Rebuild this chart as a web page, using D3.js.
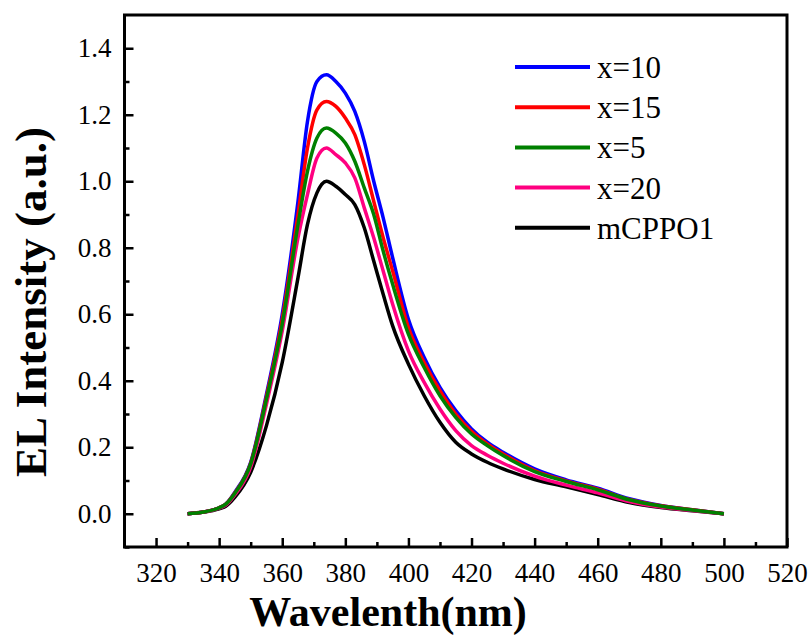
<!DOCTYPE html>
<html>
<head>
<meta charset="utf-8">
<script src="https://cdn.jsdelivr.net/npm/d3@7/dist/d3.min.js"></script>
<style>
  html, body { margin: 0; padding: 0; background: #fff; }
  svg { display: block; }
</style>
</head>
<body>
<svg id="chart" width="812" height="635"></svg>
<script>
// ---- Data ----
const wavelengths = [330, 335, 340, 342, 345, 350, 355, 360, 365, 368, 371, 374, 377, 380, 383, 386, 389, 392, 395, 400, 405, 410, 415, 420, 425, 430, 440, 450, 460, 470, 480, 490, 500];

const x10    = [0, 0.005, 0.018, 0.028, 0.065, 0.155, 0.36, 0.60, 0.94, 1.18, 1.30, 1.32, 1.30, 1.265, 1.21, 1.12, 1.00, 0.89, 0.77, 0.585, 0.47, 0.38, 0.31, 0.255, 0.215, 0.185, 0.135, 0.102, 0.077, 0.045, 0.025, 0.012, 0];
const x15    = [0, 0.005, 0.018, 0.028, 0.063, 0.152, 0.352, 0.585, 0.90, 1.10, 1.215, 1.24, 1.225, 1.19, 1.14, 1.05, 0.94, 0.83, 0.73, 0.56, 0.455, 0.37, 0.30, 0.248, 0.21, 0.18, 0.13, 0.099, 0.074, 0.043, 0.024, 0.012, 0];
const x5     = [0, 0.005, 0.018, 0.028, 0.062, 0.15, 0.345, 0.57, 0.87, 1.03, 1.13, 1.16, 1.145, 1.115, 1.06, 0.98, 0.90, 0.79, 0.69, 0.54, 0.44, 0.355, 0.29, 0.24, 0.205, 0.175, 0.127, 0.097, 0.072, 0.042, 0.023, 0.011, 0];
const x20    = [0, 0.005, 0.017, 0.025, 0.057, 0.14, 0.33, 0.55, 0.83, 0.96, 1.07, 1.10, 1.08, 1.055, 1.01, 0.92, 0.83, 0.73, 0.63, 0.49, 0.395, 0.315, 0.25, 0.205, 0.176, 0.152, 0.113, 0.086, 0.063, 0.037, 0.02, 0.01, 0];
const mCPPO1 = [0, 0.005, 0.015, 0.022, 0.05, 0.125, 0.265, 0.455, 0.71, 0.87, 0.965, 1.0, 0.985, 0.96, 0.93, 0.86, 0.76, 0.66, 0.565, 0.45, 0.355, 0.275, 0.215, 0.18, 0.155, 0.135, 0.103, 0.081, 0.058, 0.034, 0.019, 0.009, 0];

const seriesNames  = ["x=10", "x=15", "x=5", "x=20", "mCPPO1"];
const seriesColors = ["#0000ff", "#ff0000", "#008000", "#ff0080", "#000000"];
const seriesValues = [x10, x15, x5, x20, mCPPO1];
const drawOrder    = [4, 3, 0, 1, 2]; // black, pink, blue, red, green on top

const xMajorTicks = [320, 340, 360, 380, 400, 420, 440, 460, 480, 500, 520];
const xMinorTicks = [330, 350, 370, 390, 410, 430, 450, 470, 490, 510];
const yMajorTicks = [0.0, 0.2, 0.4, 0.6, 0.8, 1.0, 1.2, 1.4];
const yMinorTicks = [-0.1, 0.1, 0.3, 0.5, 0.7, 0.9, 1.1, 1.3];

const xTitle = "Wavelenth(nm)";
const yTitle = "EL Intensity (a.u.)";

// ---- Layout ----
const svg = d3.select("#chart");
const L = 124.5, R = 787, T = 15, B = 547;
const FONT = "'Liberation Serif', 'Times New Roman', serif";

const x = d3.scaleLinear().domain([310, 520]).range([L, R]);
const y = d3.scaleLinear().domain([-0.1, 1.5]).range([B, T]);

// curves
const line = d3.line()
  .x(d => x(d[0]))
  .y(d => y(d[1]))
  .curve(d3.curveMonotoneX);

const curves = svg.append("g");
drawOrder.forEach(i => {
  const pts = wavelengths.map((w, k) => [w, seriesValues[i][k]]);
  curves.append("path")
    .attr("d", line(pts))
    .attr("fill", "none")
    .attr("stroke", seriesColors[i])
    .attr("stroke-width", 3.5)
    .attr("stroke-linejoin", "round");
});

// axes
function styleAxis(g) {
  g.attr("font-family", null);
  g.selectAll("path.domain").remove();
  g.selectAll(".tick line").attr("stroke", "#000").attr("stroke-width", 2.5);
  g.selectAll(".tick text").style("font-family", FONT).attr("font-size", 27).attr("fill", "#000");
}

const xAxis = svg.append("g").attr("transform", `translate(0,${B})`)
  .call(d3.axisBottom(x).tickValues(xMajorTicks).tickFormat(d3.format("d")).tickSize(-9).tickPadding(16));
styleAxis(xAxis);

const xAxisMinor = svg.append("g").attr("transform", `translate(0,${B})`)
  .call(d3.axisBottom(x).tickValues(xMinorTicks).tickFormat("").tickSize(-5));
styleAxis(xAxisMinor);

const yAxis = svg.append("g").attr("transform", `translate(${L},0)`)
  .call(d3.axisLeft(y).tickValues(yMajorTicks).tickFormat(d3.format(".1f")).tickSize(-9).tickPadding(13));
styleAxis(yAxis);

const yAxisMinor = svg.append("g").attr("transform", `translate(${L},0)`)
  .call(d3.axisLeft(y).tickValues(yMinorTicks).tickFormat("").tickSize(-5));
styleAxis(yAxisMinor);

// frame
svg.append("rect")
  .attr("x", L).attr("y", T)
  .attr("width", R - L).attr("height", B - T)
  .attr("fill", "none").attr("stroke", "#000").attr("stroke-width", 3);

// titles
svg.append("text")
  .attr("x", 388).attr("y", 625.5)
  .attr("text-anchor", "middle")
  .style("font-family", FONT).attr("font-weight", "bold").attr("font-size", 42)
  .text(xTitle);

svg.append("text")
  .attr("transform", "translate(46,302) rotate(-90)")
  .attr("text-anchor", "middle")
  .style("font-family", FONT).attr("font-weight", "bold").attr("font-size", 45)
  .text(yTitle);

// legend
const legend = svg.append("g");
seriesNames.forEach((name, i) => {
  const ly = 67 + i * 40.2;
  legend.append("line")
    .attr("x1", 515).attr("x2", 590)
    .attr("y1", ly).attr("y2", ly)
    .attr("stroke", seriesColors[i]).attr("stroke-width", 4);
  legend.append("text")
    .attr("x", 597).attr("y", ly + 11)
    .style("font-family", FONT).attr("font-size", 31).attr("fill", "#000")
    .text(name);
});
</script>
</body>
</html>
